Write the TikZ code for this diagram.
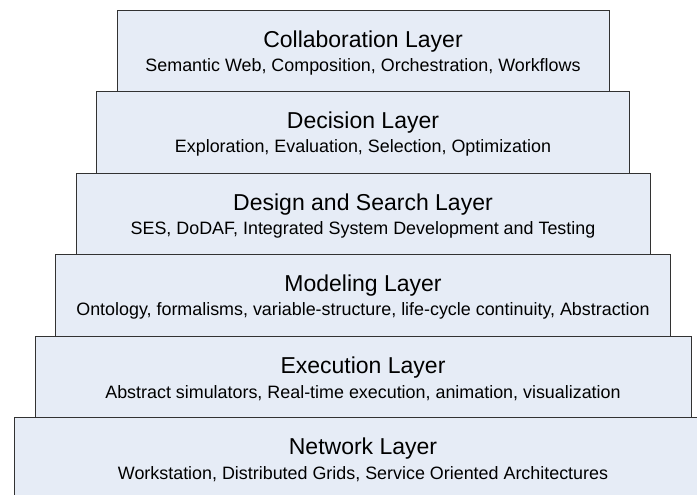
\documentclass[tikz,border=0pt]{standalone}
\usepackage{fontspec}
\setmainfont{Liberation Sans}
\usepackage{xcolor}
\definecolor{layerfill}{RGB}{230,236,246}
\definecolor{layerline}{RGB}{50,50,50}

\begin{document}
\begin{tikzpicture}[x=1pt,y=-1pt,
    layer/.style={draw=layerline,fill=layerfill,line width=0.9pt,
      minimum height=81.5pt,inner sep=0pt},
    ttl/.style={font=\fontsize{23}{24}\selectfont,inner sep=0pt},
    sub/.style={font=\fontsize{17.9}{20}\selectfont,inner sep=0pt}]
  \useasboundingbox (0,0) rectangle (697,495);
  \clip (0,0) rectangle (697,495);
  \foreach \i/\nm/\t/\s in {
      0/collab/Collaboration Layer/{Semantic Web, Composition, Orchestration, Workflows},
      1/decision/Decision Layer/{Exploration, Evaluation, Selection, Optimization},
      2/design/Design and Search Layer/{SES, DoDAF, Integrated System Development and Testing},
      3/modeling/Modeling Layer/{Ontology, formalisms, variable-structure, life-cycle continuity, Abstraction},
      4/execution/Execution Layer/{Abstract simulators, Real-time execution, animation, visualization},
      5/network/Network Layer/{Workstation, Distributed Grids, Service Oriented Architectures}} {
    \node[layer,minimum width={492pt+41pt*\i}] (\nm) at (363,{50.75+81.5*\i}) {};
    \node[ttl] (\nm-t) at ([yshift=9.5pt]\nm.center) {\t};
    \node[sub] (\nm-s) at ([yshift=-16pt]\nm.center) {\s};
  }
\end{tikzpicture}
\end{document}
